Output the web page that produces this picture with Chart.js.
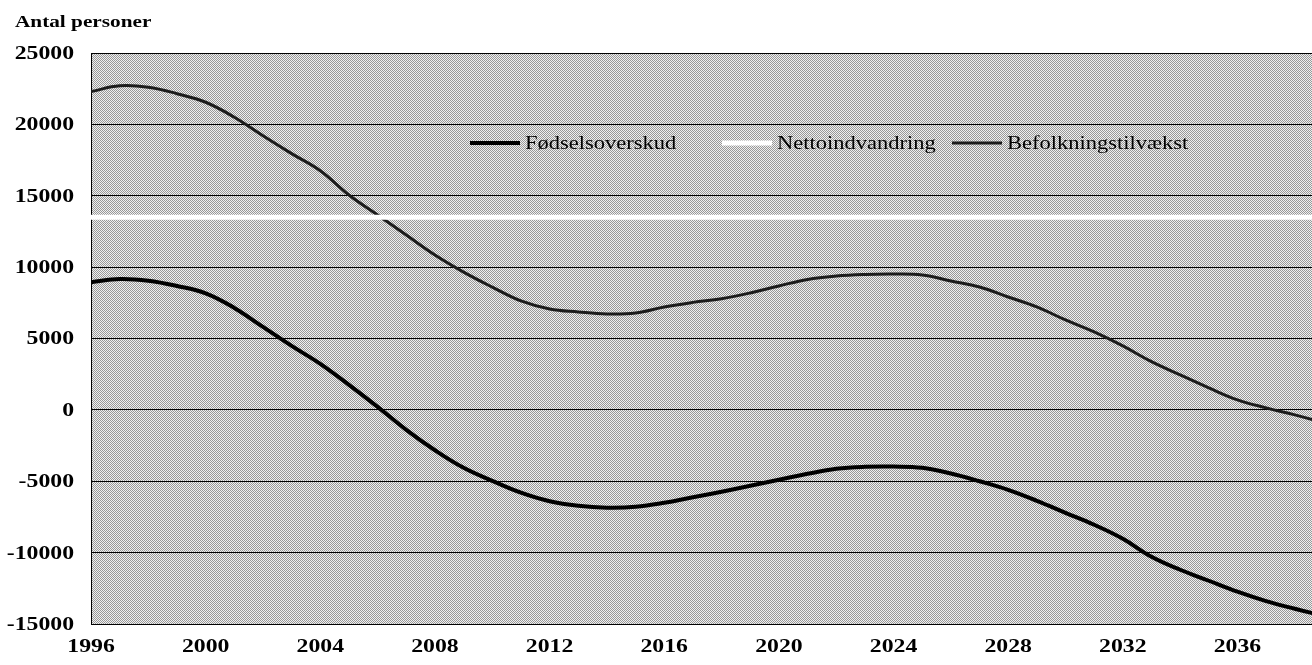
<!DOCTYPE html>
<html>
<head>
<meta charset="utf-8">
<script src="https://cdn.jsdelivr.net/npm/chart.js@4"></script>
<style>
  html, body { margin: 0; padding: 0; background: #fff; }
  #wrap { width: 1312px; height: 665px; position: relative; }
</style>
</head>
<body>
<div id="wrap"><canvas id="chart"></canvas></div>
<script>
// Årstal (data pr. år)
const years = [1996, 1997, 1998, 1999, 2000, 2001, 2002, 2003, 2004, 2005,
  2006, 2007, 2008, 2009, 2010, 2011, 2012, 2013, 2014, 2015,
  2016, 2017, 2018, 2019, 2020, 2021, 2022, 2023, 2024, 2025,
  2026, 2027, 2028, 2029, 2030, 2031, 2032, 2033, 2034, 2035,
  2036, 2037, 2038, 2039];

const fodselsoverskud = [8940, 9170, 9050, 8680, 8160, 7140, 5810, 4480, 3220, 1750,
  210, -1400, -2830, -4060, -4970, -5800, -6400, -6720, -6850, -6790,
  -6510, -6120, -5740, -5320, -4900, -4480, -4130, -3990, -3970, -4060,
  -4460, -5000, -5600, -6370, -7210, -8050, -9030, -10290, -11200, -11970,
  -12740, -13400, -13930, -14420];

const nettoindvandring = [13500, 13500, 13500, 13500, 13500, 13500, 13500, 13500, 13500, 13500,
  13500, 13500, 13500, 13500, 13500, 13500, 13500, 13500, 13500, 13500,
  13500, 13500, 13500, 13500, 13500, 13500, 13500, 13500, 13500, 13500,
  13500, 13500, 13500, 13500, 13500, 13500, 13500, 13500, 13500, 13500,
  13500, 13500, 13500, 13500];

const befolkningstilvaekst = [22300, 22700, 22600, 22150, 21550, 20500, 19200, 17950, 16750, 15050,
  13650, 12250, 10850, 9650, 8600, 7630, 7070, 6860, 6720, 6790,
  7210, 7530, 7790, 8190, 8680, 9140, 9380, 9490, 9520, 9450,
  9030, 8610, 7910, 7210, 6300, 5460, 4480, 3380, 2450, 1540,
  700, 140, -350, -900];

const xTickYears = [1996, 2000, 2004, 2008, 2012, 2016, 2020, 2024, 2028, 2032, 2036];
const yTicks = [-15000, -10000, -5000, 0, 5000, 10000, 15000, 20000, 25000];

const FONT = '"Liberation Serif", "Times New Roman", serif';
const STRETCH = 1.25; // teksten i originalen er bredere end normal Times

function toPoints(values) {
  return years.map((y, i) => ({ x: y, y: values[i] }));
}

// rasteragtig grå baggrund
function makePattern(ctx) {
  const c = document.createElement('canvas');
  c.width = 2; c.height = 2;
  const p = c.getContext('2d');
  p.fillStyle = '#f0f0f0';
  p.fillRect(0, 0, 2, 2);
  p.fillStyle = '#989898';
  p.fillRect(0, 0, 1, 1);
  p.fillRect(1, 1, 1, 1);
  return ctx.createPattern(c, 'repeat');
}

const plotBackground = {
  id: 'plotBackground',
  beforeDraw(chart) {
    const { ctx, chartArea } = chart;
    ctx.save();
    ctx.fillStyle = makePattern(ctx);
    ctx.fillRect(chartArea.left, chartArea.top, chartArea.right - chartArea.left, chartArea.bottom - chartArea.top);
    ctx.restore();
  }
};

function stretchedText(ctx, text, x, y, align) {
  ctx.save();
  ctx.translate(x, y);
  ctx.scale(STRETCH, 1);
  ctx.textAlign = align || 'left';
  ctx.fillText(text, 0, 0);
  ctx.restore();
}

// aksetitel og akseetiketter (tegnes selv for at kunne strække dem)
const axisText = {
  id: 'axisText',
  afterDraw(chart) {
    const ctx = chart.ctx;
    const xs = chart.scales.x, ys = chart.scales.y;
    ctx.save();
    ctx.fillStyle = '#000';
    ctx.font = 'bold 17px ' + FONT;
    ctx.textBaseline = 'alphabetic';
    stretchedText(ctx, 'Antal personer', 15, 27, 'left');

    ctx.font = 'bold 19px ' + FONT;
    ctx.textBaseline = 'middle';
    yTicks.forEach(v => {
      stretchedText(ctx, String(v), 74, ys.getPixelForValue(v) + 1, 'right');
    });
    xTickYears.forEach(v => {
      stretchedText(ctx, String(v), xs.getPixelForValue(v), 647, 'center');
    });
    ctx.restore();
  }
};

// forklaring inde i plotområdet
const legendStarts = [470, 722, 952];
const innerLegend = {
  id: 'innerLegend',
  afterDatasetsDraw(chart) {
    const ctx = chart.ctx;
    const y = 143;
    ctx.save();
    ctx.font = '18px ' + FONT;
    ctx.textBaseline = 'middle';
    chart.data.datasets.forEach((ds, i) => {
      const x = legendStarts[i];
      ctx.strokeStyle = ds.borderColor;
      ctx.lineWidth = ds.borderWidth;
      ctx.beginPath();
      ctx.moveTo(x, y);
      ctx.lineTo(x + 50, y);
      ctx.stroke();
      ctx.fillStyle = '#000';
      stretchedText(ctx, ds.label, x + 55, y + 1, 'left');
    });
    ctx.restore();
  }
};

const ctx = document.getElementById('chart').getContext('2d');
new Chart(ctx, {
  type: 'line',
  data: {
    datasets: [
      {
        label: 'Fødselsoverskud',
        data: toPoints(fodselsoverskud),
        borderColor: '#000000',
        borderWidth: 4,
        pointRadius: 0,
        tension: 0.4
      },
      {
        label: 'Nettoindvandring',
        data: toPoints(nettoindvandring),
        borderColor: '#ffffff',
        borderWidth: 5,
        pointRadius: 0,
        tension: 0
      },
      {
        label: 'Befolkningstilvækst',
        data: toPoints(befolkningstilvaekst),
        borderColor: '#1c1c1c',
        borderWidth: 3,
        pointRadius: 0,
        tension: 0.4
      }
    ]
  },
  options: {
    responsive: true,
    maintainAspectRatio: false,
    animation: false,
    layout: { padding: { top: 53, right: 0, left: 0, bottom: 0 } },
    plugins: {
      legend: { display: false },
      tooltip: { enabled: false }
    },
    scales: {
      x: {
        type: 'linear',
        min: 1996,
        max: 2038.6,
        afterBuildTicks(scale) {
          scale.ticks = xTickYears.map(v => ({ value: v }));
        },
        afterFit(scale) { scale.height = 41; },
        grid: { display: false, drawTicks: false },
        border: { display: true, color: '#000', width: 1 },
        ticks: { display: false }
      },
      y: {
        min: -15000,
        max: 25000,
        afterBuildTicks(scale) {
          scale.ticks = yTicks.map(v => ({ value: v }));
        },
        afterFit(scale) { scale.width = 91; },
        grid: { color: '#000', lineWidth: 1, drawTicks: false },
        border: { display: true, color: '#000', width: 1 },
        ticks: { display: false }
      }
    }
  },
  plugins: [plotBackground, innerLegend, axisText]
});
</script>
</body>
</html>
